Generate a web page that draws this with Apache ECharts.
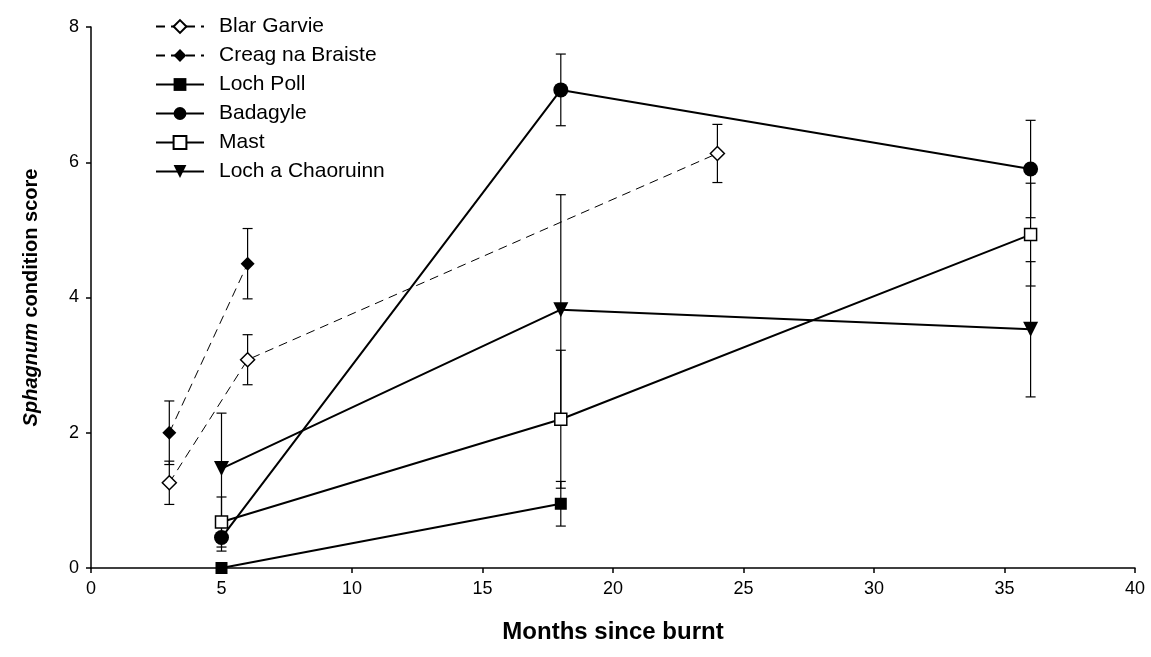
<!DOCTYPE html>
<html>
<head>
<meta charset="utf-8">
<script src="https://cdn.jsdelivr.net/npm/echarts@6/dist/echarts.min.js"></script>
<style>
  html, body { margin: 0; padding: 0; background: #fff; }
  #chart { width: 1151px; height: 657px; }
</style>
</head>
<body>
<div id="chart"></div>
<script>
// Sphagnum condition score by months since burning, per site (mean ± error)
const xTicks = [0, 5, 10, 15, 20, 25, 30, 35, 40];
const yTicks = [0, 2, 4, 6, 8];

const blarGarvieMonths = [3, 6, 24];
const blarGarvieScore  = [1.26, 3.08, 6.13];
const blarGarvieErr    = [0.32, 0.37, 0.43];

const creagMonths = [3, 6];
const creagScore  = [2.0, 4.5];
const creagErr    = [0.47, 0.52];

const lochPollMonths = [5, 18];
const lochPollScore  = [0, 0.95];
const lochPollErr    = [0, 0.33];

const badagyleMonths = [5, 18, 36];
const badagyleScore  = [0.45, 7.07, 5.9];
const badagyleErr    = [0.2, 0.53, 0.72];

const mastMonths = [5, 18, 36];
const mastScore  = [0.68, 2.2, 4.93];
const mastErr    = [0.37, 1.02, 0.76];

const chaoruinnMonths = [5, 18, 36];
const chaoruinnScore  = [1.47, 3.82, 3.53];
const chaoruinnErr    = [0.82, 1.7, 1.0];

const FONT = 'Liberation Sans, Arial, Helvetica, sans-serif';

const sites = [
  { name: 'Blar Garvie', months: blarGarvieMonths, score: blarGarvieScore, err: blarGarvieErr,
    symbol: 'diamond', size: 14, open: true, dashed: true },
  { name: 'Creag na Braiste', months: creagMonths, score: creagScore, err: creagErr,
    symbol: 'diamond', size: 14, open: false, dashed: true },
  { name: 'Loch Poll', months: lochPollMonths, score: lochPollScore, err: lochPollErr,
    symbol: 'rect', size: 12, open: false, dashed: false },
  { name: 'Badagyle', months: badagyleMonths, score: badagyleScore, err: badagyleErr,
    symbol: 'circle', size: 15, open: false, dashed: false },
  { name: 'Mast', months: mastMonths, score: mastScore, err: mastErr,
    symbol: 'rect', size: 12, open: true, dashed: false },
  { name: 'Loch a Chaoruinn', months: chaoruinnMonths, score: chaoruinnScore, err: chaoruinnErr,
    symbol: 'triangle', size: 15, open: false, dashed: false, rotate: 180 }
];

// Vertical error bar with caps
function renderErrorBar(params, api) {
  const x = api.value(0);
  const lo = api.coord([x, api.value(1)]);
  const hi = api.coord([x, api.value(2)]);
  const half = 5;
  const style = { stroke: '#000', lineWidth: 1.2 };
  return {
    type: 'group',
    children: [
      { type: 'line', shape: { x1: lo[0], y1: lo[1], x2: hi[0], y2: hi[1] }, style },
      { type: 'line', shape: { x1: lo[0] - half, y1: lo[1], x2: lo[0] + half, y2: lo[1] }, style },
      { type: 'line', shape: { x1: hi[0] - half, y1: hi[1], x2: hi[0] + half, y2: hi[1] }, style }
    ]
  };
}

const series = [];
sites.forEach(function (s) {
  const errData = s.months
    .map(function (m, i) { return [m, s.score[i] - s.err[i], s.score[i] + s.err[i]]; })
    .filter(function (d) { return d[2] > d[1]; });
  series.push({
    type: 'custom',
    name: s.name + ' error',
    renderItem: renderErrorBar,
    data: errData,
    z: 1,
    silent: true,
    encode: { x: 0, y: [1, 2] }
  });
});
sites.forEach(function (s) {
  series.push({
    type: 'line',
    name: s.name,
    data: s.months.map(function (m, i) { return [m, s.score[i]]; }),
    symbol: s.symbol,
    symbolSize: s.size,
    symbolRotate: s.rotate || 0,
    showAllSymbol: true,
    z: 3,
    lineStyle: s.dashed
      ? { color: '#000', width: 1, type: [9, 6] }
      : { color: '#000', width: 2 },
    itemStyle: {
      color: s.open ? '#fff' : '#000',
      borderColor: '#000',
      borderWidth: s.open ? 1.5 : 0
    },
    emphasis: { disabled: true }
  });
});

const chart = echarts.init(document.getElementById('chart'), null, { renderer: 'canvas' });
chart.setOption({
  animation: false,
  backgroundColor: '#fff',
  textStyle: { fontFamily: FONT },
  grid: { left: 91, right: 16, top: 27, bottom: 89, containLabel: false },
  legend: {
    data: sites.map(function (s) { return s.name; }),
    orient: 'vertical',
    left: 150,
    top: 11,
    itemWidth: 48,
    itemHeight: 16,
    itemGap: 8,
    textStyle: { fontFamily: FONT, fontSize: 21, color: '#000', padding: [0, 0, 0, 10] },
    selectedMode: false
  },
  xAxis: {
    type: 'value',
    min: xTicks[0],
    max: xTicks[xTicks.length - 1],
    interval: 5,
    name: 'Months since burnt',
    nameLocation: 'middle',
    nameGap: 52,
    nameTextStyle: { fontFamily: FONT, fontSize: 24, fontWeight: 'bold', color: '#000' },
    axisLine: { lineStyle: { color: '#000', width: 1.5 } },
    axisTick: { show: true, length: 5, lineStyle: { color: '#000', width: 1.5 } },
    axisLabel: { fontFamily: FONT, fontSize: 18, color: '#000', margin: 12 },
    splitLine: { show: false }
  },
  yAxis: {
    type: 'value',
    min: yTicks[0],
    max: yTicks[yTicks.length - 1],
    interval: 2,
    name: '{i|Sphagnum} condition score',
    nameLocation: 'middle',
    nameRotate: 90,
    nameGap: 50,
    nameTextStyle: {
      fontFamily: FONT, fontSize: 20, fontWeight: 'bold', color: '#000',
      rich: {
        i: { fontFamily: FONT, fontSize: 20, fontWeight: 'bold', fontStyle: 'italic', color: '#000' }
      }
    },
    axisLine: { show: true, lineStyle: { color: '#000', width: 1.5 } },
    axisTick: { show: true, length: 5, lineStyle: { color: '#000', width: 1.5 } },
    axisLabel: { fontFamily: FONT, fontSize: 18, color: '#000', margin: 12 },
    splitLine: { show: false }
  },
  series: series
});
</script>
</body>
</html>
